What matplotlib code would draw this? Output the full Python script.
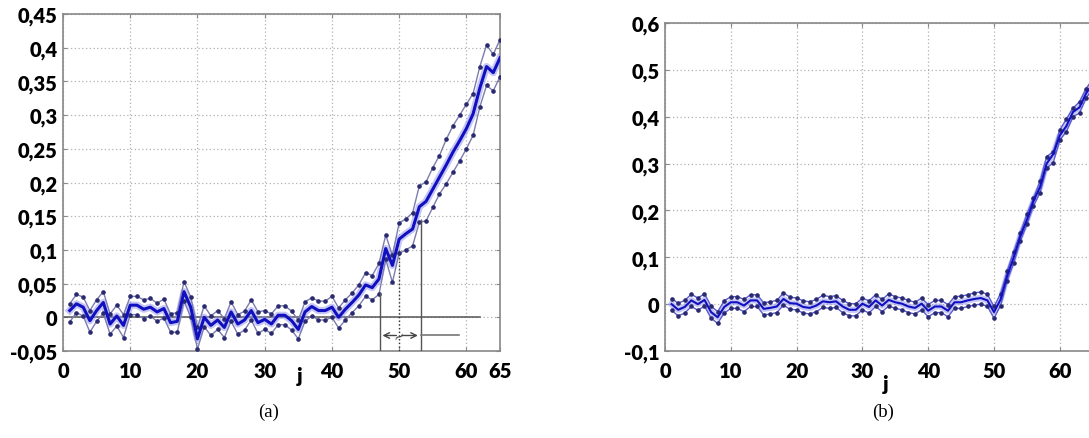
import numpy as np
import matplotlib
matplotlib.use('Agg')
import matplotlib.pyplot as plt

# step index
j = np.arange(1, 66)

# (a) centre line and its upper / lower bounds
a_mid = [0.010, 0.020, 0.015, -0.005, 0.010, 0.022, -0.010, 0.002, -0.012, 0.018,
         0.018, 0.012, 0.015, 0.008, 0.013, -0.008, -0.006, 0.038, 0.015, -0.032,
         0.000, -0.012, -0.004, -0.015, 0.008, -0.010, -0.004, 0.010, -0.008, -0.003,
         -0.010, 0.003, 0.003, -0.005, -0.018, 0.008, 0.016, 0.010, 0.010, 0.015,
         0.000, 0.012, 0.022, 0.033, 0.048, 0.044, 0.057, 0.102, 0.077, 0.116,
         0.124, 0.131, 0.164, 0.172, 0.190, 0.208, 0.226, 0.245, 0.262, 0.280,
         0.302, 0.340, 0.372, 0.363, 0.385]
a_up = [0.020, 0.034, 0.030, 0.010, 0.026, 0.038, 0.005, 0.018, 0.004, 0.031,
        0.031, 0.026, 0.028, 0.021, 0.027, 0.005, 0.007, 0.053, 0.030, -0.015,
        0.017, 0.002, 0.010, -0.002, 0.023, 0.004, 0.009, 0.026, 0.008, 0.010,
        0.005, 0.017, 0.017, 0.009, -0.004, 0.023, 0.029, 0.024, 0.024, 0.031,
        0.014, 0.026, 0.036, 0.048, 0.066, 0.062, 0.080, 0.122, 0.092, 0.140,
        0.146, 0.155, 0.195, 0.201, 0.222, 0.240, 0.264, 0.284, 0.300, 0.316,
        0.332, 0.372, 0.404, 0.390, 0.412]
a_low = [-0.007, 0.007, 0.002, -0.022, -0.006, 0.006, -0.025, -0.013, -0.030, 0.004,
         0.004, -0.002, 0.002, -0.006, -0.001, -0.022, -0.022, 0.024, 0.000, -0.047,
         -0.014, -0.027, -0.018, -0.030, -0.006, -0.025, -0.019, -0.004, -0.024, -0.018,
         -0.024, -0.011, -0.011, -0.019, -0.032, -0.006, 0.002, -0.004, -0.004, 0.000,
         -0.016, -0.004, 0.007, 0.017, 0.031, 0.026, 0.034, 0.086, 0.052, 0.095,
         0.100, 0.106, 0.141, 0.143, 0.163, 0.183, 0.198, 0.215, 0.232, 0.250,
         0.270, 0.312, 0.344, 0.336, 0.357]

# (b)
b_mid = [0.000, -0.012, -0.006, 0.008, 0.000, 0.009, -0.017, -0.028, -0.006, 0.004,
         0.004, -0.003, 0.008, 0.008, -0.010, -0.008, -0.005, 0.011, 0.002, 0.001,
         -0.006, -0.008, -0.003, 0.006, 0.004, 0.006, -0.005, -0.012, -0.012, 0.001,
         -0.006, 0.008, -0.003, 0.009, 0.004, 0.001, -0.005, -0.008, 0.001, -0.014,
         -0.005, -0.005, -0.014, 0.004, 0.004, 0.008, 0.011, 0.013, 0.008, -0.017,
         0.010, 0.060, 0.100, 0.145, 0.180, 0.220, 0.250, 0.300, 0.320, 0.360,
         0.380, 0.410, 0.420, 0.450, 0.470]
b_up = [0.012, 0.002, 0.008, 0.021, 0.013, 0.022, -0.004, -0.016, 0.007, 0.016,
        0.016, 0.010, 0.020, 0.020, 0.003, 0.005, 0.008, 0.024, 0.015, 0.013,
        0.007, 0.005, 0.010, 0.019, 0.016, 0.018, 0.008, 0.001, 0.001, 0.013,
        0.007, 0.020, 0.010, 0.022, 0.016, 0.013, 0.008, 0.004, 0.013, -0.001,
        0.008, 0.008, -0.001, 0.016, 0.017, 0.020, 0.024, 0.026, 0.021, -0.005,
        0.022, 0.070, 0.112, 0.152, 0.192, 0.226, 0.262, 0.315, 0.325, 0.372,
        0.395, 0.418, 0.432, 0.460, 0.480]
b_low = [-0.013, -0.025, -0.019, -0.005, -0.013, -0.004, -0.030, -0.041, -0.019, -0.009,
         -0.009, -0.016, -0.005, -0.005, -0.023, -0.021, -0.018, -0.002, -0.011, -0.012,
         -0.019, -0.021, -0.016, -0.007, -0.009, -0.007, -0.018, -0.025, -0.025, -0.012,
         -0.019, -0.005, -0.016, -0.004, -0.009, -0.012, -0.018, -0.021, -0.012, -0.027,
         -0.018, -0.018, -0.027, -0.009, -0.009, -0.005, -0.002, 0.000, -0.005, -0.030,
         -0.003, 0.050, 0.088, 0.135, 0.170, 0.210, 0.238, 0.290, 0.302, 0.350,
         0.368, 0.400, 0.408, 0.440, 0.460]

a_xticks = [0, 10, 20, 30, 40, 50, 60, 65]
a_yticks = [-0.05, 0, 0.05, 0.1, 0.15, 0.2, 0.25, 0.3, 0.35, 0.4, 0.45]
a_ylabels = ['-0,05', '0', '0,05', '0,1', '0,15', '0,2', '0,25', '0,3', '0,35', '0,4', '0,45']
b_xticks = [0, 10, 20, 30, 40, 50, 60]
b_yticks = [-0.1, 0, 0.1, 0.2, 0.3, 0.4, 0.5, 0.6]
b_ylabels = ['-0,1', '0', '0,1', '0,2', '0,3', '0,4', '0,5', '0,6']

FONT = 'Lato'
fnt = {'family': FONT, 'weight': 'heavy', 'size': 15}

fig = plt.figure(figsize=(10.89, 4.39), dpi=100)
ax1 = fig.add_axes([63/1089, 1-352/439, 437/1089, 337/439])
ax2 = fig.add_axes([665/1089, 1-352/439, 70*6.58/1089, 328/439])


def style(ax):
    for s in ax.spines.values():
        s.set_color('#888888')
        s.set_linewidth(1.2)
    ax.grid(True, linestyle=(0, (1, 2)), color='#b0b0b0', linewidth=0.9)
    ax.tick_params(direction='in', length=3, color='#888888', top=True, right=True)
    ax.tick_params(axis='x', pad=7)
    ax.tick_params(axis='y', pad=4)
    for t in ax.get_xticklabels() + ax.get_yticklabels():
        t.set_fontfamily(FONT)
        t.set_fontweight('heavy')
        t.set_fontsize(14.5)


def draw(ax, mid, up, low, side_col, lw_mid):
    ax.plot(j, mid, color='#8f8ff0', lw=lw_mid + 3, alpha=0.5, zorder=3)
    ax.plot(j, up, color=side_col, lw=1.0, marker='o', ms=2.3,
            mfc='#2a2a70', mec='#2a2a70', zorder=4)
    ax.plot(j, low, color=side_col, lw=1.0, marker='o', ms=2.3,
            mfc='#2a2a70', mec='#2a2a70', zorder=4)
    ax.plot(j, mid, color='#1010c0', lw=lw_mid, zorder=5)


# ---- (a)
draw(ax1, a_mid, a_up, a_low, '#7c7cb0', 2.2)
ax1.plot([0, 62], [0, 0], color='#555555', lw=1.1, zorder=2)
ax1.vlines([47.1], -0.05, 0.037, color='#555555', lw=1.0, zorder=6)
ax1.vlines([53.2], -0.05, 0.146, color='#555555', lw=1.0, zorder=6)
ax1.vlines([50], -0.05, 0.1, color='#333333', lw=1.0, linestyles=':', zorder=6)
ax1.plot([53.2, 58.9], [-0.027, -0.027], color='#777777', lw=1.2, zorder=6)
ax1.annotate('', xy=(47.1, -0.027), xytext=(50, -0.027),
             arrowprops=dict(arrowstyle='->', color='#444444', lw=1.0))
ax1.annotate('', xy=(53.2, -0.027), xytext=(50, -0.027),
             arrowprops=dict(arrowstyle='->', color='#444444', lw=1.0))
ax1.text(50, -0.027, '~', ha='center', va='center', fontsize=10, color='#444444',
         rotation=30, zorder=7)
ax1.set_xlim(0, 65)
ax1.set_ylim(-0.05, 0.45)
ax1.set_xticks(a_xticks)
ax1.set_yticks(a_yticks)
ax1.set_yticklabels(a_ylabels)
style(ax1)
ax1.set_xlabel('j', fontdict=fnt)
ax1.xaxis.set_label_coords(237/437, -0.045)

# ---- (b)
draw(ax2, b_mid, b_up, b_low, '#5a5ad0', 1.5)
ax2.set_xlim(0, 70)
ax2.set_ylim(-0.1, 0.6)
ax2.set_xticks(b_xticks)
ax2.set_yticks(b_yticks)
ax2.set_yticklabels(b_ylabels)
style(ax2)
ax2.set_xlabel('j', fontdict=fnt)
ax2.xaxis.set_label_coords(221/(70*6.58), -0.07)

fig.text(269/1089, 1-412/439, '(a)', family='Liberation Serif', fontsize=13.5, ha='center', va='center')
fig.text(883/1089, 1-412/439, '(b)', family='Liberation Serif', fontsize=13.5, ha='center', va='center')

plt.savefig('out.png', dpi=100)
